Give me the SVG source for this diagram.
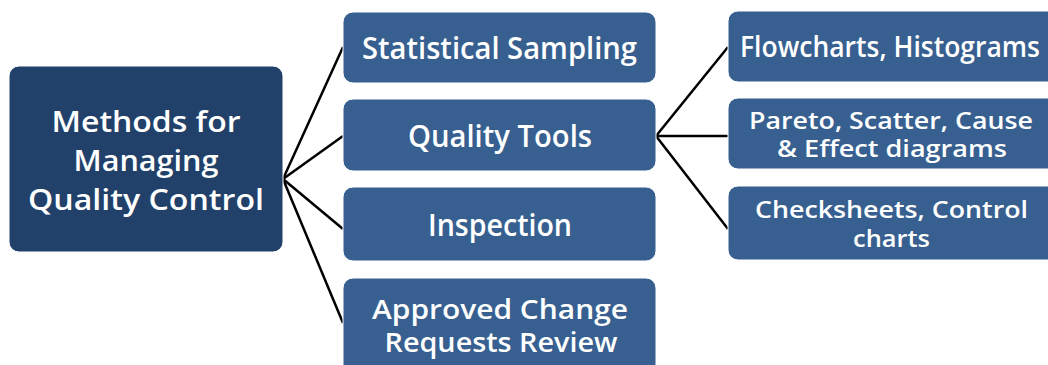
<svg xmlns="http://www.w3.org/2000/svg" width="1048" height="365" viewBox="0 0 1048 365">
<style>
.root{fill:#21416a;stroke:#ffffff;stroke-width:1}
.box{fill:#376090;stroke:#ffffff;stroke-width:1}
text{font-family:"Open Sans","Liberation Sans",sans-serif;font-weight:600;fill:#ffffff;text-anchor:middle}
.t1{font-size:29px}
.t2{font-size:30px}
.t2b{font-size:27px}
.t3{font-size:28px}
.t4{font-size:23px}
.t5{font-size:24px}
.conn line{stroke:#000000;stroke-width:2.5}
</style>
<rect width="1048" height="365" fill="#ffffff"/>
<g id="connectors" class="conn">
<line x1="283" y1="179" x2="343" y2="47"/>
<line x1="283" y1="179" x2="343" y2="136"/>
<line x1="283" y1="179" x2="343" y2="229"/>
<line x1="283" y1="179" x2="343" y2="323"/>
<line x1="656" y1="136" x2="728" y2="47"/>
<line x1="656" y1="136" x2="728" y2="136"/>
<line x1="656" y1="136" x2="728" y2="229"/>
</g>
<g id="root">
<rect class="root" x="9" y="66" width="274" height="186" rx="10"/>
<text class="t1" x="146" y="132" textLength="189" lengthAdjust="spacingAndGlyphs">Methods for</text>
<text class="t1" x="146" y="171" textLength="145" lengthAdjust="spacingAndGlyphs">Managing</text>
<text class="t1" x="146" y="210" textLength="236" lengthAdjust="spacingAndGlyphs">Quality Control</text>
</g>
<g id="n-sampling">
<rect class="box" x="343" y="12" width="313" height="71" rx="10"/>
<text class="t2" x="499.5" y="59" textLength="275" lengthAdjust="spacingAndGlyphs">Statistical Sampling</text>
</g>
<g id="n-tools">
<rect class="box" x="343" y="99" width="313" height="72" rx="10"/>
<text class="t2" x="500" y="147" textLength="184" lengthAdjust="spacingAndGlyphs">Quality Tools</text>
</g>
<g id="n-inspection">
<rect class="box" x="343" y="187" width="313" height="74" rx="10"/>
<text class="t2" x="500" y="236" textLength="144" lengthAdjust="spacingAndGlyphs">Inspection</text>
</g>
<g id="n-review">
<rect class="box" x="343" y="278" width="313" height="100" rx="10"/>
<text class="t2b" x="500" y="319" textLength="256" lengthAdjust="spacingAndGlyphs">Approved Change</text>
<text class="t2b" x="501" y="352" textLength="233" lengthAdjust="spacingAndGlyphs">Requests Review</text>
</g>
<g id="n-flow">
<rect class="box" x="728" y="11" width="330" height="71" rx="10"/>
<text class="t3" x="890" y="57" textLength="300" lengthAdjust="spacingAndGlyphs">Flowcharts, Histograms</text>
</g>
<g id="n-pareto">
<rect class="box" x="728" y="98" width="330" height="71" rx="10"/>
<text class="t4" x="891" y="129" textLength="284" lengthAdjust="spacingAndGlyphs">Pareto, Scatter, Cause</text>
<text class="t4" x="892" y="157" textLength="230" lengthAdjust="spacingAndGlyphs">&amp; Effect diagrams</text>
</g>
<g id="n-check">
<rect class="box" x="728" y="186" width="330" height="74" rx="10"/>
<text class="t5" x="891.5" y="218" textLength="273" lengthAdjust="spacingAndGlyphs">Checksheets, Control</text>
<text class="t5" x="891.5" y="247" textLength="77" lengthAdjust="spacingAndGlyphs">charts</text>
</g>
</svg>
